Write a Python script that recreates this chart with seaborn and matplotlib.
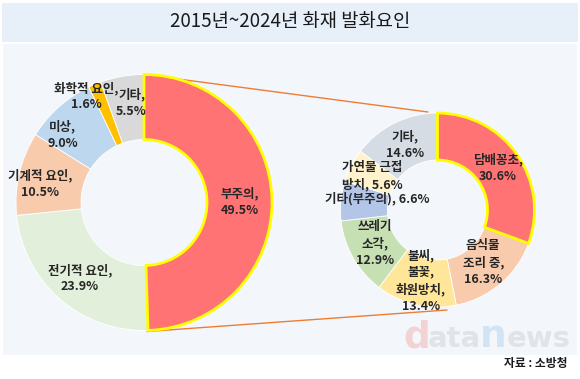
import numpy as np
import matplotlib
matplotlib.use("Agg")
import matplotlib.pyplot as plt
from matplotlib.patches import Rectangle
import seaborn as sns

# ---------------- data ----------------
title = "2015년~2024년 화재 발화요인"
source = "자료 : 소방청"

main_names = ["부주의", "전기적 요인", "기계적 요인", "미상", "화학적 요인", "기타"]
main_values = [49.5, 23.9, 10.5, 9.0, 1.6, 5.5]
main_colors = ["#FF7375", "#E2EFDA", "#F8CBAD", "#BDD7EE", "#FFC000", "#D9D9D9"]

sub_names = ["담배꽁초", "음식물\n조리 중", "불씨,\n불꽃,\n화원방치", "쓰레기\n소각",
             "기타(부주의)", "가연물 근접\n방치", "기타"]
sub_seps = [",\n", ",\n", ",\n", ",\n", ", ", ", ", ",\n"]
sub_values = [30.6, 16.3, 13.4, 12.9, 6.6, 5.6, 14.6]
sub_colors = ["#FF7375", "#F8CBAD", "#FFE699", "#C6E0B4", "#B4C6E7", "#FFF2CC", "#D6DCE4"]

# label nudges (pixels, x right / y down) relative to wedge mid-point
main_nudge = [(0, 1), (-1, 4), (-11, 3), (-18, 4), (-21, -18), (4, -6)]
sub_nudge = [(0, 0), (-2, -3), (0, -1), (1, -3), (13, -5), (0, 0), (0, 1)]

# ---------------- style ----------------
sns.set_theme(style="white")
plt.rcParams["font.family"] = ["Noto Sans CJK KR", "DejaVu Sans"]

W, H = 580, 379
fig = plt.figure(figsize=(W / 100, H / 100), dpi=100)
fig.patch.set_facecolor("white")
ax = fig.add_axes([0, 0, 1, 1])


def Y(py):
    return H - py


# background bands
ax.add_patch(Rectangle((2, Y(41.5)), 576, 38.5, facecolor="#E7EFF9", edgecolor="none", zorder=0))
ax.add_patch(Rectangle((3, Y(355)), 574, 311, facecolor="#F3F7FC", edgecolor="none", zorder=0))

# donut geometry (pixels)
c1, r1, w1 = (144, 202.5), 128, 65
c2, r2, w2 = (437.5, 210), 97, 47


def donut(values, colors, center, radius, width):
    wedges, _ = ax.pie(values, colors=colors, startangle=90, counterclock=False,
                       radius=radius, center=(center[0], Y(center[1])),
                       wedgeprops=dict(width=width, edgecolor="white", linewidth=0.6))
    for w in wedges:
        w.set_zorder(2)
    wedges[0].set_edgecolor("#FFFF00")
    wedges[0].set_linewidth(2.0)
    wedges[0].set_zorder(3)
    return wedges


def labels(names, seps, values, center, radius, width, nudges):
    total = float(sum(values))
    cum = np.cumsum([0] + list(values))
    rmid = radius - width / 2
    for i, (n, s, v) in enumerate(zip(names, seps, values)):
        frac = (cum[i] + v / 2) / total
        ang = 2 * np.pi * frac
        x = center[0] + rmid * np.sin(ang) + nudges[i][0]
        y = center[1] - rmid * np.cos(ang) + nudges[i][1]
        ax.text(x, Y(y), f"{n}{s}{v:.1f}%", ha="center", va="center",
                fontsize=9, fontweight="bold", color="#262626",
                linespacing=1.35, zorder=5)


donut(main_values, main_colors, c1, r1, w1)
donut(sub_values, sub_colors, c2, r2, w2)
labels(main_names, [",\n"] * len(main_names), main_values, c1, r1, w1, main_nudge)
labels(sub_names, sub_seps, sub_values, c2, r2, w2, sub_nudge)

# connector lines
ax.plot([c1[0], c2[0] - 9.5], [Y(c1[1] - r1), Y(c2[1] - r2 - 1)], color="#ED7D31", lw=1.0, zorder=1)
ax.plot([c1[0] + 3, c2[0] + 9.5], [Y(c1[1] + r1 + 1), Y(c2[1] + r2 + 3)], color="#ED7D31", lw=1.0, zorder=1)

# watermark
wm = [("d", 403, "#F3D2D4", "bold", 27), ("ata", 428, "#E0E4E9", "bold", 21),
      ("n", 480, "#D2E3F3", "bold", 27), ("ews", 507, "#E0E4E9", "bold", 21)]
for t, x, col, fw, fs in wm:
    ax.text(x, Y(347), t, ha="left", va="baseline", fontsize=fs, color=col,
            fontweight=fw, family="DejaVu Sans", zorder=1)

# title and source
ax.text(290, Y(22), title, ha="center", va="center", fontsize=13.5,
        fontweight="medium", color="#1A1A1A", zorder=5)
ax.text(568, Y(363), source, ha="right", va="center", fontsize=8.5,
        fontweight="bold", color="#1A1A1A", zorder=5)

ax.set_xlim(0, W)
ax.set_ylim(0, H)
ax.set_aspect("equal")
ax.axis("off")

fig.savefig("out.png", dpi=100, facecolor="white")
